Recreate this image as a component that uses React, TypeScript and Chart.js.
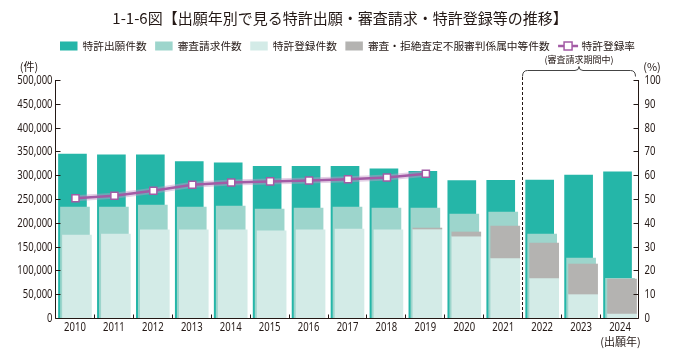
import React, { useEffect, useRef } from 'react';
import { Chart, registerables } from 'chart.js';

Chart.register(...registerables);

// ---------- data ----------
const years = ['2010', '2011', '2012', '2013', '2014', '2015', '2016', '2017', '2018', '2019', '2020', '2021', '2022', '2023', '2024'];
const applications = [344598, 342610, 342796, 328436, 325989, 318721, 318381, 318479, 313567, 307969, 288472, 289200, 289530, 300133, 306855];
const examRequests = [233000, 233000, 237000, 233000, 235000, 229000, 231000, 233000, 231000, 231000, 218500, 222500, 176500, 126000, 83300];
const registrations = [174000, 176500, 185000, 185000, 185000, 183000, 185000, 187000, 185000, 187000, 172000, 126000, 84000, 50400, 9800];
const pendingCases = [0, 0, 0, 0, 0, 0, 0, 0, 0, 2000, 8700, 67000, 73600, 63000, 72200];
const registrationRate = [50.3, 51.4, 53.5, 56.0, 56.9, 57.4, 57.8, 58.3, 59.0, 60.6, null, null, null, null, null];
const leftMax = 500000;
const leftStep = 50000;
const rightMax = 100;
const rightStep = 10;

const TITLE = '1-1-6図【出願年別で見る特許出願・審査請求・特許登録等の推移】';
const LEGEND_LABELS = ['特許出願件数', '審査請求件数', '特許登録件数', '審査・拒絶査定不服審判係属中等件数', '特許登録率'];

const TEXT = '#231815';
const C_APP = '#25b6a8';
const C_REQ = '#9dd5cc';
const C_REG = '#d3ebe7';
const C_PEND = '#b4b3b1';
const C_RATE = '#a35ba5';
const JP_FONT = "'Noto Sans CJK JP', 'Noto Sans', sans-serif";
const NUM_FONT = "12.5px 'Noto Sans', 'Noto Sans CJK JP', sans-serif";
const NUM_SQUEEZE = 0.76;

const shiftPlugin = {
  id: 'shiftPlugin',
  afterDatasetsUpdate(chart: any) {
    chart.data.datasets.forEach((ds: any, i: number) => {
      const off = ds.xShift || 0;
      if (!off) return;
      chart.getDatasetMeta(i).data.forEach((el: any) => {
        el.x += off;
      });
    });
  },
};

function squeezedText(ctx: any, text: string, px: number, py: number, align: string) {
  ctx.save();
  ctx.translate(px, py);
  ctx.scale(NUM_SQUEEZE, 1);
  ctx.textAlign = align;
  ctx.fillText(text, 0, 0);
  ctx.restore();
}

const decorPlugin = {
  id: 'decorPlugin',
  afterDatasetsDraw(chart: any) {
    const { ctx, chartArea: a, scales } = chart;
    const x = scales.x;
    const y = scales.y;
    const y1 = scales.y1;
    ctx.save();
    ctx.strokeStyle = TEXT;
    ctx.lineWidth = 1;
    const L = Math.round(a.left) + 0.5;
    const R = Math.round(a.right) - 0.5;
    const B = Math.round(a.bottom) + 0.5;
    const T = Math.round(a.top);
    ctx.beginPath();
    ctx.moveTo(L, T);
    ctx.lineTo(L, B);
    ctx.lineTo(R, B);
    ctx.lineTo(R, T);
    ctx.stroke();
    ctx.beginPath();
    y.ticks.forEach((t: any) => {
      const py = Math.round(y.getPixelForValue(t.value)) + 0.5;
      ctx.moveTo(L, py);
      ctx.lineTo(L + 5, py);
    });
    y1.ticks.forEach((t: any) => {
      const py = Math.round(y1.getPixelForValue(t.value)) + 0.5;
      ctx.moveTo(R, py);
      ctx.lineTo(R - 5, py);
    });
    for (let i = 1; i < years.length; i++) {
      const bx = Math.round((x.getPixelForValue(i - 1) + x.getPixelForValue(i)) / 2) + 0.5;
      ctx.moveTo(bx, B);
      ctx.lineTo(bx, B - 4);
    }
    ctx.stroke();
    const dx = Math.round((x.getPixelForValue(11) + x.getPixelForValue(12)) / 2) + 0.5;
    ctx.setLineDash([3, 2]);
    ctx.beginPath();
    ctx.moveTo(dx, T - 3);
    ctx.lineTo(dx, B);
    ctx.stroke();
    ctx.setLineDash([]);
    const bl = dx;
    const br = R - 3;
    const bm = (bl + br) / 2;
    const by = T - 9.5;
    ctx.strokeStyle = '#444';
    ctx.beginPath();
    ctx.moveTo(bl, by + 6);
    ctx.quadraticCurveTo(bl, by, bl + 5, by);
    ctx.lineTo(bm - 4, by);
    ctx.quadraticCurveTo(bm, by, bm, by - 4);
    ctx.quadraticCurveTo(bm, by, bm + 4, by);
    ctx.lineTo(br - 5, by);
    ctx.quadraticCurveTo(br, by, br, by + 6);
    ctx.stroke();

    // tick labels (from the library's scales), horizontally condensed
    ctx.fillStyle = TEXT;
    ctx.textBaseline = 'middle';
    ctx.font = NUM_FONT;
    y.ticks.forEach((t: any) => {
      squeezedText(ctx, String(t.label), L - 3, y.getPixelForValue(t.value) + 0.5, 'right');
    });
    y1.ticks.forEach((t: any) => {
      squeezedText(ctx, String(t.label), R + 6, y1.getPixelForValue(t.value) + 0.5, 'left');
    });
    x.ticks.forEach((t: any, i: number) => {
      squeezedText(ctx, String(x.getLabelForValue(t.value)), x.getPixelForValue(i) + 0.5, 327, 'center');
    });
    ctx.restore();
  },
  afterDraw(chart: any) {
    const { ctx, chartArea: a, scales } = chart;
    const x = scales.x;
    ctx.save();
    ctx.fillStyle = TEXT;
    ctx.textBaseline = 'middle';
    ctx.font = `15px ${JP_FONT}`;
    ctx.textAlign = 'center';
    ctx.fillText(TITLE, 340, 18);
    ctx.font = `10.7px ${JP_FONT}`;
    ctx.textAlign = 'left';
    const colors = [C_APP, C_REQ, C_REG, C_PEND];
    let cx = 60;
    const ly = 46;
    for (let i = 0; i < 4; i++) {
      ctx.fillStyle = colors[i];
      ctx.fillRect(cx, ly - 4.5, 17.5, 9);
      cx += 17.5 + 5;
      ctx.fillStyle = TEXT;
      ctx.fillText(LEGEND_LABELS[i], cx, ly);
      cx += ctx.measureText(LEGEND_LABELS[i]).width + 8.5;
    }
    ctx.strokeStyle = C_RATE;
    ctx.lineWidth = 2.5;
    ctx.beginPath();
    ctx.moveTo(cx, ly);
    ctx.lineTo(cx + 20, ly);
    ctx.stroke();
    ctx.fillStyle = '#fff';
    ctx.lineWidth = 1.5;
    ctx.fillRect(cx + 6, ly - 4, 8, 8);
    ctx.strokeRect(cx + 6, ly - 4, 8, 8);
    ctx.fillStyle = TEXT;
    ctx.fillText(LEGEND_LABELS[4], cx + 23.5, ly);
    ctx.font = `11px ${JP_FONT}`;
    ctx.textAlign = 'center';
    ctx.fillText('(件)', 29, 67);
    ctx.fillText('(%)', 652, 67);
    ctx.fillText('(出願年)', x.getPixelForValue(14) + 1, 342);
    const dx = (x.getPixelForValue(11) + x.getPixelForValue(12)) / 2;
    ctx.font = `9px ${JP_FONT}`;
    ctx.fillText('(審査請求期間中)', (dx + a.right - 3) / 2, 59.5);
    ctx.restore();
  },
};

export default function App() {
  const ref = useRef<HTMLCanvasElement | null>(null);
  useEffect(() => {
    if (!ref.current) return;
    const pendingBars = registrations.map((r, i) => (pendingCases[i] > 0 ? [r, r + pendingCases[i]] : null));
    const chart = new Chart(ref.current, {
      type: 'bar',
      data: {
        labels: years,
        datasets: [
          {
            type: 'line',
            label: LEGEND_LABELS[4],
            data: registrationRate,
            yAxisID: 'y1',
            borderColor: C_RATE,
            borderWidth: 2.5,
            pointStyle: 'rect',
            pointRadius: 5,
            pointBackgroundColor: '#ffffff',
            pointBorderColor: C_RATE,
            pointBorderWidth: 1.5,
            order: 0,
            xShift: 1,
          } as any,
          {
            type: 'line',
            label: 'halo',
            data: registrationRate,
            yAxisID: 'y1',
            borderColor: 'rgba(195,150,200,0.45)',
            borderWidth: 6,
            pointRadius: 0,
            order: 0.5,
            xShift: 1,
          } as any,
          {
            label: LEGEND_LABELS[3],
            data: pendingBars as any,
            backgroundColor: C_PEND,
            barThickness: 29,
            grouped: false,
            order: 1,
            xShift: 2.5,
          } as any,
          {
            label: LEGEND_LABELS[2],
            data: registrations,
            backgroundColor: C_REG,
            barThickness: 29,
            grouped: false,
            order: 2,
            xShift: 2.5,
          } as any,
          {
            label: LEGEND_LABELS[1],
            data: examRequests,
            backgroundColor: C_REQ,
            barThickness: 29,
            grouped: false,
            order: 3,
            xShift: 0.5,
          } as any,
          {
            label: LEGEND_LABELS[0],
            data: applications,
            backgroundColor: C_APP,
            barThickness: 28,
            grouped: false,
            order: 4,
            xShift: -2,
          } as any,
        ],
      },
      options: {
        responsive: false,
        animation: false,
        devicePixelRatio: 1,
        layout: { padding: { top: 80, left: 0, right: 0, bottom: 0 } },
        plugins: {
          legend: { display: false },
          title: { display: false },
          tooltip: { enabled: false },
        },
        scales: {
          x: {
            offset: true,
            grid: { display: false, drawTicks: false },
            border: { display: false },
            ticks: { display: false, autoSkip: false },
            afterFit: (s: any) => {
              s.height = 42;
            },
          },
          y: {
            position: 'left',
            min: 0,
            max: leftMax,
            grid: { display: false, drawTicks: false },
            border: { display: false },
            ticks: {
              display: false,
              stepSize: leftStep,
              callback: (v: any) => Number(v).toLocaleString('en-US'),
            },
            afterFit: (s: any) => {
              s.width = 55;
            },
          },
          y1: {
            position: 'right',
            min: 0,
            max: rightMax,
            grid: { display: false, drawTicks: false },
            border: { display: false },
            ticks: { display: false, stepSize: rightStep },
            afterFit: (s: any) => {
              s.width = 35;
            },
          },
        },
      } as any,
      plugins: [shiftPlugin, decorPlugin],
    });
    return () => chart.destroy();
  }, []);
  return (
    <div style={{ position: 'absolute', left: 0, top: 0, width: 674, height: 360, background: '#fff' }}>
      <canvas ref={ref} width={674} height={360} style={{ display: 'block' }} />
    </div>
  );
}
